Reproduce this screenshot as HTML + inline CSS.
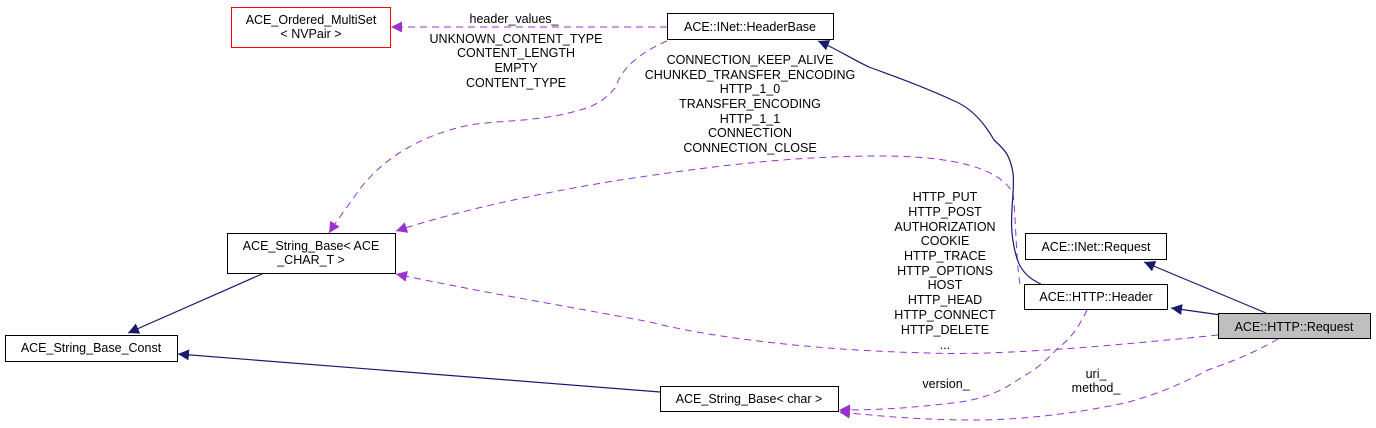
<!DOCTYPE html>
<html><head><meta charset="utf-8"><style>
html,body{margin:0;padding:0;background:#fff;}
svg{display:block;}
text{font-family:"Liberation Sans",Arial,sans-serif;font-size:12.5px;fill:#000;}
</style></head><body>
<svg width="1376" height="428" viewBox="0 0 1376 428" xmlns="http://www.w3.org/2000/svg">
<defs>
<marker id="ap" viewBox="0 0 10 10" refX="10" refY="5" markerWidth="11" markerHeight="11" markerUnits="userSpaceOnUse" orient="auto"><path d="M0,0 L10,5 L0,10 z" fill="#9a32cd"/></marker>
<marker id="an" viewBox="0 0 10 10" refX="10" refY="5" markerWidth="11" markerHeight="11" markerUnits="userSpaceOnUse" orient="auto"><path d="M0,0 L10,5 L0,10 z" fill="#191970"/></marker>
</defs>
<g fill="none" stroke="#9a32cd" stroke-width="1" stroke-dasharray="7,5">
<path d="M667,27 L391,27" marker-end="url(#ap)"/>
<path d="M667,41 C640,52 620,70 616,87 C605,100 595,106 580,110 C540,122 500,120 470,125 C420,135 380,160 357,193 C345,210 336,222 329,233" marker-end="url(#ap)"/>
<path d="M1020,284 C1016,260 1016,220 1013,193 C1000,170 960,155 869,156 C780,157 700,168 620,180 C540,193 460,210 396,231" marker-end="url(#ap)"/>
<path d="M1218,335 C1120,345 1000,356 929,353 C800,350 700,335 650,322 C560,305 470,290 396,274" marker-end="url(#ap)"/>
<path d="M1087,310 C1080,325 1070,340 1059,347 C1045,362 1035,370 1022,377 C1000,393 980,400 952,403 C910,408 880,410 839,410" marker-end="url(#ap)"/>
<path d="M1278,339 C1250,355 1230,362 1208,370 C1170,390 1140,400 1115,405 C1060,416 1010,420 976,420 C920,420 880,416 839,412" marker-end="url(#ap)"/>
</g>
<g fill="none" stroke="#191970" stroke-width="1.2">
<path d="M1041,284 C1020,275 1015,260 1012,233 C1010,210 1015,190 1013,173 C1010,155 1005,150 994,140 C980,115 965,105 952,100 C920,85 890,75 869,67 C850,58 835,48 818,41" marker-end="url(#an)"/>
<path d="M1266,313 L1144,262" marker-end="url(#an)"/>
<path d="M1221,315 L1171,308" marker-end="url(#an)"/>
<path d="M262,274 L128,333" marker-end="url(#an)"/>
<path d="M660,392 L178,354" marker-end="url(#an)"/>
</g>
<g stroke-width="1">
<rect x="231.5" y="7.5" width="159" height="40" fill="#fff" stroke="#ff0000"/>
<rect x="667.5" y="13.5" width="166" height="26" fill="#fff" stroke="#000"/>
<rect x="227.5" y="233.5" width="168" height="40" fill="#fff" stroke="#000"/>
<rect x="5.5" y="335.5" width="172" height="26" fill="#fff" stroke="#000"/>
<rect x="660.5" y="386.5" width="178" height="25" fill="#fff" stroke="#000"/>
<rect x="1025.5" y="233.5" width="141" height="26" fill="#fff" stroke="#000"/>
<rect x="1024.5" y="284.5" width="143" height="25" fill="#fff" stroke="#000"/>
<rect x="1218.5" y="313.5" width="152" height="25" fill="#bfbfbf" stroke="#000"/>
</g>
<g text-anchor="middle">
<text x="311" y="24">ACE_Ordered_MultiSet</text>
<text x="311" y="38">&lt; NVPair &gt;</text>
<text x="750" y="31">ACE::INet::HeaderBase</text>
<text x="311" y="250">ACE_String_Base&lt; ACE</text>
<text x="311" y="264">_CHAR_T &gt;</text>
<text x="91" y="352">ACE_String_Base_Const</text>
<text x="749" y="403">ACE_String_Base&lt; char &gt;</text>
<text x="1096" y="251">ACE::INet::Request</text>
<text x="1096" y="301">ACE::HTTP::Header</text>
<text x="1294" y="331">ACE::HTTP::Request</text>
<text x="514" y="23">header_values_</text>
<text x="516" y="43">UNKNOWN_CONTENT_TYPE</text>
<text x="516" y="57">CONTENT_LENGTH</text>
<text x="516" y="72">EMPTY</text>
<text x="516" y="87">CONTENT_TYPE</text>
<text x="750" y="64">CONNECTION_KEEP_ALIVE</text>
<text x="750" y="79">CHUNKED_TRANSFER_ENCODING</text>
<text x="750" y="93">HTTP_1_0</text>
<text x="750" y="108">TRANSFER_ENCODING</text>
<text x="750" y="123">HTTP_1_1</text>
<text x="750" y="137">CONNECTION</text>
<text x="750" y="152">CONNECTION_CLOSE</text>
<text x="945" y="201">HTTP_PUT</text>
<text x="945" y="216">HTTP_POST</text>
<text x="945" y="231">AUTHORIZATION</text>
<text x="945" y="245">COOKIE</text>
<text x="945" y="260">HTTP_TRACE</text>
<text x="945" y="275">HTTP_OPTIONS</text>
<text x="945" y="289">HOST</text>
<text x="945" y="304">HTTP_HEAD</text>
<text x="945" y="319">HTTP_CONNECT</text>
<text x="945" y="334">HTTP_DELETE</text>
<text x="945" y="349">...</text>
<text x="946" y="388">version_</text>
<text x="1096" y="378">uri_</text>
<text x="1096" y="392">method_</text>
</g>
</svg>
</body></html>
